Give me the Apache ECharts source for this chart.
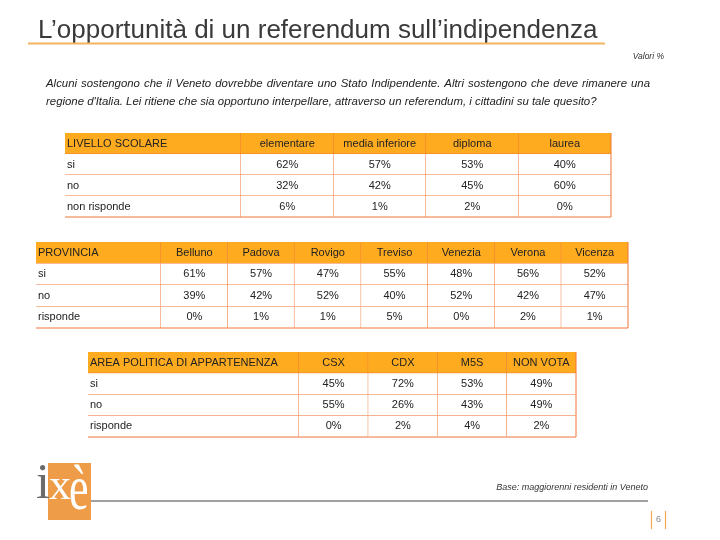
<!DOCTYPE html>
<html>
<head>
<meta charset="utf-8">
<title>L’opportunità di un referendum sull’indipendenza</title>
<script src="https://cdn.jsdelivr.net/npm/echarts@6/dist/echarts.min.js"></script>
<style>
    html, body { margin: 0; padding: 0; background: #fff; }
    #tabelle { width: 720px; height: 540px; }
</style>
</head>
<body>
<div id="tabelle"></div>
<script>
// dati delle tre tabelle (valori %)
var scuolaTitolo = 'LIVELLO SCOLARE';
var scuolaColonne = ['elementare', 'media inferiore', 'diploma', 'laurea'];
var scuolaRighe = ['si', 'no', 'non risponde'];
var scuolaSi = [62, 57, 53, 40];
var scuolaNo = [32, 42, 45, 60];
var scuolaNonRisponde = [6, 1, 2, 0];

var provinciaTitolo = 'PROVINCIA';
var provinciaColonne = ['Belluno', 'Padova', 'Rovigo', 'Treviso', 'Venezia', 'Verona', 'Vicenza'];
var provinciaRighe = ['si', 'no', 'risponde'];
var provinciaSi = [61, 57, 47, 55, 48, 56, 52];
var provinciaNo = [39, 42, 52, 40, 52, 42, 47];
var provinciaRisponde = [0, 1, 1, 5, 0, 2, 1];

var areaTitolo = 'AREA POLITICA DI APPARTENENZA';
var areaColonne = ['CSX', 'CDX', 'M5S', 'NON VOTA'];
var areaRighe = ['si', 'no', 'risponde'];
var areaSi = [45, 72, 53, 49];
var areaNo = [55, 26, 43, 49];
var areaRisponde = [0, 2, 4, 2];

var domanda1 = 'Alcuni sostengono che il Veneto dovrebbe diventare uno Stato Indipendente. Altri sostengono che deve rimanere una';
var domanda2 = 'regione d\'Italia. Lei ritiene che sia opportuno interpellare, attraverso un referendum, i cittadini su tale quesito?';

urgenza();
function urgenza() {

    var myChart = echarts.init(document.getElementById('tabelle'));

    var FONT = '"Liberation Sans", Arial, Helvetica, sans-serif';
    var SERIF = '"Liberation Serif", "DejaVu Serif", serif';
    var ARANCIO = '#FFAB1F';
    var BORDO = '#EE7636';

    var tabelle = [
        { titolo: scuolaTitolo, colonne: scuolaColonne, righe: scuolaRighe, valori: [scuolaSi, scuolaNo, scuolaNonRisponde] },
        { titolo: provinciaTitolo, colonne: provinciaColonne, righe: provinciaRighe, valori: [provinciaSi, provinciaNo, provinciaRisponde] },
        { titolo: areaTitolo, colonne: areaColonne, righe: areaRighe, valori: [areaSi, areaNo, areaRisponde] }
    ];
    // posizione delle tabelle nella slide (px)
    var box = [
        { left: 65, top: 133, labelW: 176, width: 546, height: 84 },
        { left: 36, top: 242, labelW: 125, width: 592, height: 86 },
        { left: 88, top: 352, labelW: 211, width: 488, height: 85 }
    ];

    // disegna una cella: sfondo, bordo destro e inferiore, testo
    function cella(testi, allineaSinistra) {
        return function (params, api) {
            var c = api.coord([api.value(0), api.value(1)]);
            var s = api.size([1, 1]);
            var x = c[0] - s[0] / 2, y = c[1] - s[1] / 2;
            var testa = api.value(1) === 0;
            return {
                type: 'group',
                children: [
                    { type: 'rect', shape: { x: x, y: y, width: s[0], height: s[1] },
                      style: { fill: testa ? ARANCIO : '#fff' } },
                    { type: 'line', shape: { x1: x, y1: y + s[1], x2: x + s[0], y2: y + s[1] },
                      style: { stroke: BORDO, lineWidth: 1 } },
                    { type: 'line', shape: { x1: x + s[0], y1: y, x2: x + s[0], y2: y + s[1] },
                      style: { stroke: BORDO, lineWidth: 1 } },
                    { type: 'text', x: allineaSinistra ? x + 2 : c[0], y: c[1],
                      style: { text: testi[params.dataIndex], fill: '#222', fontSize: 11, fontFamily: FONT,
                               align: allineaSinistra ? 'left' : 'center', verticalAlign: 'middle' } }
                ]
            };
        };
    }

    var grid = [], xAxis = [], yAxis = [], series = [];
    tabelle.forEach(function (t, i) {
        var b = box[i];
        var righe = ['testa'].concat(t.righe);
        // colonna delle etichette
        grid.push({ left: b.left, top: b.top, width: b.labelW, height: b.height });
        // colonne dei valori
        grid.push({ left: b.left + b.labelW, top: b.top, width: b.width - b.labelW, height: b.height });

        xAxis.push({ type: 'category', gridIndex: 2 * i, data: [t.titolo], show: false });
        xAxis.push({ type: 'category', gridIndex: 2 * i + 1, data: t.colonne, show: false });
        yAxis.push({ type: 'category', gridIndex: 2 * i, data: righe, inverse: true, show: false });
        yAxis.push({ type: 'category', gridIndex: 2 * i + 1, data: righe, inverse: true, show: false });

        var datiEtichette = [], testiEtichette = [];
        righe.forEach(function (r, ri) {
            datiEtichette.push([0, ri]);
            testiEtichette.push(ri === 0 ? t.titolo : r);
        });

        var datiValori = [], testiValori = [];
        t.colonne.forEach(function (col, ci) {
            datiValori.push([ci, 0]);
            testiValori.push(col);
            t.valori.forEach(function (riga, ri) {
                datiValori.push([ci, ri + 1, riga[ci]]);
                testiValori.push(riga[ci] + '%');
            });
        });

        series.push({ type: 'custom', xAxisIndex: 2 * i, yAxisIndex: 2 * i,
                      renderItem: cella(testiEtichette, true), data: datiEtichette, silent: true });
        series.push({ type: 'custom', xAxisIndex: 2 * i + 1, yAxisIndex: 2 * i + 1,
                      renderItem: cella(testiValori, false), data: datiValori, silent: true });
    });

    // prima riga della domanda giustificata fra x=46 e x=650
    var ctx = document.createElement('canvas').getContext('2d');
    ctx.font = 'italic 11.4px ' + FONT;
    var parole = domanda1.split(' ');
    var larghezze = parole.map(function (p) { return ctx.measureText(p).width; });
    var totale = larghezze.reduce(function (a, w) { return a + w; }, 0);
    var spazio = (650 - 46 - totale) / (parole.length - 1);
    var giustificata = [];
    var px = 46;
    parole.forEach(function (p, k) {
        giustificata.push({ type: 'text', x: px, y: 84, style: { text: p, fill: '#222', fontSize: 11.4,
            fontStyle: 'italic', fontFamily: FONT, verticalAlign: 'middle' } });
        px += larghezze[k] + spazio;
    });

    var option = {
        animation: false,
        backgroundColor: '#fff',
        grid: grid,
        xAxis: xAxis,
        yAxis: yAxis,
        series: series,
        graphic: [
            // titolo della slide
            { type: 'text', x: 38, y: 31, style: { text: 'L’opportunità di un referendum sull’indipendenza',
              fill: '#3a3a3a', fontSize: 26, fontFamily: FONT, verticalAlign: 'middle' } },
            { type: 'line', shape: { x1: 28, y1: 43.5, x2: 605, y2: 43.5 },
              style: { stroke: '#F2B45E', lineWidth: 2 } },
            { type: 'text', x: 664, y: 57, style: { text: 'Valori %', fill: '#333', fontSize: 8.5,
              fontStyle: 'italic', fontFamily: FONT, align: 'right', verticalAlign: 'middle' } },
            // domanda, seconda riga
            { type: 'text', x: 46, y: 102, style: { text: domanda2,
              fill: '#222', fontSize: 11.4, fontStyle: 'italic', fontFamily: FONT, verticalAlign: 'middle' } },
            // logo
            { type: 'rect', shape: { x: 48, y: 463, width: 43, height: 57 }, style: { fill: '#EE9C48' } },
            { type: 'text', x: 36, y: 510, style: { text: 'i', fill: '#6b6b6b', fontSize: 50,
              fontFamily: SERIF, verticalAlign: 'bottom' } },
            { type: 'text', x: 49, y: 509, style: { text: 'x', fill: '#fff', fontSize: 44,
              fontFamily: SERIF, verticalAlign: 'bottom' } },
            { type: 'text', x: 69, y: 524, scaleY: 1.45, style: { text: 'è', fill: '#fff', fontSize: 44,
              fontFamily: SERIF, verticalAlign: 'bottom' } },
            // piè di pagina
            { type: 'line', shape: { x1: 91, y1: 501, x2: 648, y2: 501 },
              style: { stroke: '#a0a0a0', lineWidth: 2 } },
            { type: 'text', x: 648, y: 487, style: { text: 'Base: maggiorenni residenti in Veneto', fill: '#333',
              fontSize: 9, fontStyle: 'italic', fontFamily: FONT, align: 'right', verticalAlign: 'middle' } },
            { type: 'line', shape: { x1: 651.5, y1: 511, x2: 651.5, y2: 529 }, style: { stroke: '#F2A84E', lineWidth: 1.2 } },
            { type: 'line', shape: { x1: 665.5, y1: 511, x2: 665.5, y2: 529 }, style: { stroke: '#F2A84E', lineWidth: 1.2 } },
            { type: 'text', x: 658.5, y: 520, style: { text: '6', fill: '#888', fontSize: 9, fontFamily: FONT,
              align: 'center', verticalAlign: 'middle' } }
        ].concat(giustificata)
    };

    myChart.setOption(option);
}
</script>
</body>
</html>
